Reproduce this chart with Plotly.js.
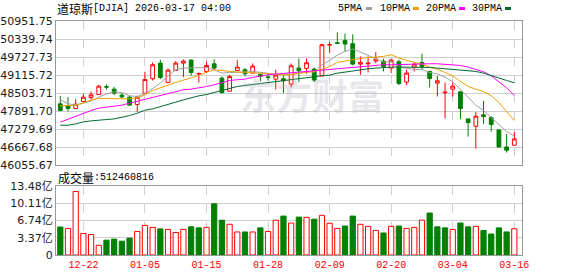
<!DOCTYPE html>
<html>
<head>
<meta charset="utf-8">
<script src="https://cdn.plot.ly/plotly-3.0.1.min.js"></script>
<style>
html,body{margin:0;padding:0;background:#fff;}
#chart{width:578px;height:276px;}
</style>
</head>
<body>
<div id="chart"></div>
<script>
// ---------------- DATA ----------------
const dates = [
  "2025-12-17","2025-12-18","2025-12-19","2025-12-22","2025-12-23","2025-12-24","2025-12-26","2025-12-29","2025-12-30","2025-12-31",
  "2026-01-02","2026-01-05","2026-01-06","2026-01-07","2026-01-08","2026-01-09","2026-01-12","2026-01-13","2026-01-14","2026-01-15",
  "2026-01-16","2026-01-20","2026-01-21","2026-01-22","2026-01-23","2026-01-26","2026-01-27","2026-01-28","2026-01-29","2026-01-30",
  "2026-02-02","2026-02-03","2026-02-04","2026-02-05","2026-02-06","2026-02-09","2026-02-10","2026-02-11","2026-02-12","2026-02-13",
  "2026-02-17","2026-02-18","2026-02-19","2026-02-20","2026-02-23","2026-02-24","2026-02-25","2026-02-26","2026-02-27","2026-03-02",
  "2026-03-03","2026-03-04","2026-03-05","2026-03-06","2026-03-09","2026-03-10","2026-03-11","2026-03-12","2026-03-13","2026-03-16"
];
const openP = [48141,48073,47982,48220,48356,48458,48725,48640,48436,48368,
  48118,48504,48991,49524,48866,49274,49524,49626,49155,49240,
  49501,49014,48572,49274,49297,49184,49138,49055,48980,48991,
  48810,49354,49342,49320,49093,50140,50215,50294,50181,49490,
  49500,49592,49592,49354,49569,48878,49388,49546,49240,48844,
  48515,48640,48549,47631,47382,47767,47676,47257,46679,46735];
const highP = [48413,48368,48300,48481,48560,48787,48798,48719,48504,48413,
  48413,49229,49546,49637,49342,49592,49648,49650,49207,49569,
  49660,49070,49127,49626,49354,49512,49150,49138,49297,49127,
  49512,49671,49682,49365,50181,50249,50566,50521,50498,49750,
  49750,49898,49671,49671,49637,49297,49524,49841,49263,49093,
  48866,48866,48560,47640,47858,48243,47722,47265,47120,47189];
const lowP = [47892,47880,47982,48220,48277,48458,48617,48436,48311,48096,
  47869,48504,48934,48980,48844,49274,49048,49093,48866,49184,
  49297,48481,48572,49274,49070,49184,48900,48934,48628,48504,
  48696,48878,49161,48878,49070,49864,50170,49920,49444,49127,
  49207,49524,49240,49184,48776,48776,49240,49297,48696,48390,
  47642,48390,47620,47030,46622,47461,47200,46656,46486,46735];
const closeP = [47914,47982,48130,48368,48447,48742,48710,48504,48379,48096,
  48368,48968,49467,49036,49286,49524,49592,49207,49165,49444,
  49354,48526,49070,49388,49161,49422,49070,49040,49116,48923,
  49433,49263,49535,48946,50147,50150,50192,50170,49490,49546,
  49520,49660,49410,49626,48832,49184,49490,49410,49002,48923,
  48535,48742,47982,47506,47722,47710,47438,46679,46566,46951];
const ma5 = [48277,48141,48107,48164,48232,48368,48481,48549,48526,48413,
  48390,48481,48674,48844,49093,49297,49354,49354,49376,49376,
  49297,49184,49206,49206,49218,49240,49206,49184,49150,49116,
  49127,49184,49240,49218,49467,49614,49796,49920,50000,49898,
  49784,49682,49558,49558,49410,49342,49308,49308,49206,49161,
  49048,48889,48617,48334,48096,47914,47676,47416,47200,47053];
const ma10 = [48073,48084,48096,48164,48277,48322,48322,48322,48322,48311,
  48345,48447,48594,48674,48776,48866,48957,49025,49104,49218,
  49297,49263,49240,49218,49218,49206,49184,49161,49138,49116,
  49138,49184,49206,49240,49297,49410,49546,49592,49637,49682,
  49716,49728,49750,49807,49694,49614,49546,49490,49388,49320,
  49206,49093,48900,48730,48640,48560,48413,48186,47880,47574];
const ma20 = [47518,47620,47710,47824,47914,47994,48028,48062,48096,48164,
  48232,48288,48368,48413,48481,48560,48617,48640,48674,48730,
  48787,48866,48934,48957,48980,49036,49093,49127,49150,49172,
  49184,49206,49218,49240,49263,49297,49331,49354,49376,49410,
  49433,49444,49467,49467,49478,49490,49490,49501,49501,49501,
  49490,49478,49444,49388,49320,49229,49093,48889,48685,48424];
const ma30 = [47416,47416,47461,47529,47563,47597,47608,47631,47676,47744,
  47824,47926,47971,48039,48107,48198,48277,48356,48413,48458,
  48526,48617,48674,48730,48764,48798,48844,48866,48900,48934,
  48980,49014,49048,49070,49093,49116,49184,49218,49263,49297,
  49331,49354,49376,49388,49388,49388,49388,49388,49376,49354,
  49331,49320,49297,49274,49240,49184,49093,49014,48934,48855];
// volume in 亿 (1e8 shares)
const volume = [5.47,5.2,12.4,4.2,4.0,1.9,2.9,3.1,2.7,3.3,
  4.6,5.8,5.4,5.1,5.0,4.4,5.0,5.5,5.3,5.4,
  10.0,6.8,6.0,4.5,4.5,4.5,5.3,4.6,6.8,7.6,
  6.25,7.4,7.36,7.0,7.75,6.2,5.2,5.66,7.6,6.0,
  5.6,4.8,4.3,5.6,5.66,5.2,5.4,6.8,8.2,5.5,
  5.3,5.0,6.25,5.5,5.6,4.8,4.1,5.3,4.5,5.1246];
// 1 = up (red), -1 = down (green)
const volDir = [-1,1,1,1,1,1,-1,-1,-1,-1,
  1,1,1,-1,1,1,1,-1,-1,1,
  -1,-1,1,1,-1,1,-1,1,1,-1,
  1,-1,1,-1,1,1,1,-1,-1,1,
  1,1,-1,1,-1,1,1,1,-1,-1,
  -1,1,-1,-1,1,-1,-1,-1,-1,1];
const priceTicks = [46055.67,46667.68,47279.69,47891.70,48503.71,49115.72,49727.73,50339.74,50951.75];
const volTicks = [0,3.37,6.74,10.11,13.48];
const volTickText = ["0","3.37亿","6.74亿","10.11亿","13.48亿"];
const xTickVals = ["2025-12-22","2026-01-05","2026-01-15","2026-01-28","2026-02-09","2026-02-20","2026-03-04","2026-03-16"];
const xTickText = ["12-22","01-05","01-15","01-28","02-09","02-20","03-04","03-16"];
const maNames = ["5PMA","10PMA","20PMA","30PMA"];
const titleCn = "道琼斯";
const titleRest = "[DJIA] 2026-03-17 04:00";
const volLabelCn = "成交量";
const volLabelNum = ":512460816";
const watermark = "东方财富";

// ---------------- STYLE ----------------
const RED = "#ff0000", GREEN = "#008000";
const maColors = ["#a0a0a0","#f0a000","#ff00ff","#006a30"];
const L = 56, R = 522, T = 21, B = 255;
const px2x = p => (p - L) / (R - L);
const py2y = p => (B - p) / (B - T);
const monoFont = "Liberation Mono, DejaVu Sans Mono, monospace";
const cjkFont = "Noto Sans CJK SC, sans-serif";

const traces = [];
traces.push({
  type: "candlestick", x: dates, open: openP, high: highP, low: lowP, close: closeP,
  xaxis: "x", yaxis: "y",
  increasing: {line: {color: RED, width: 1}, fillcolor: "#ffffff"},
  decreasing: {line: {color: GREEN, width: 1}, fillcolor: GREEN},
  whiskerwidth: 0, hoverinfo: "skip", showlegend: false
});
[ma5, ma10, ma20, ma30].forEach((arr, k) => {
  traces.push({type: "scatter", mode: "lines", x: dates, y: arr, xaxis: "x", yaxis: "y",
    line: {color: maColors[k], width: 1}, showlegend: false, hoverinfo: "skip"});
});
traces.push({
  type: "bar", x: dates, y: volume, xaxis: "x2", yaxis: "y2", width: 0.68,
  marker: {color: volDir.map(d => d > 0 ? "#ffffff" : GREEN),
           line: {color: volDir.map(d => d > 0 ? RED : GREEN), width: 1}},
  showlegend: false, hoverinfo: "skip"
});

const xRange = [-0.56, 60.0];
const commonX = {
  type: "category", range: xRange, showline: true, mirror: true, linecolor: "#999", linewidth: 1,
  showgrid: true, gridcolor: "#cfcfcf", griddash: "dash", gridwidth: 1,
  tickmode: "array", tickvals: xTickVals, ticktext: xTickText, ticks: "",
  zeroline: false, fixedrange: true
};

const annotations = [
  {text: titleCn, x: px2x(56), y: py2y(8.5), xref: "paper", yref: "paper", xanchor: "left", yanchor: "middle",
   showarrow: false, font: {family: cjkFont, size: 12, color: "#000"}, borderpad: 0},
  {text: titleRest, x: px2x(92), y: py2y(8.5), xref: "paper", yref: "paper", xanchor: "left", yanchor: "middle",
   showarrow: false, font: {family: monoFont, size: 10, color: "#000"}, borderpad: 0},
  {text: volLabelCn, x: px2x(57), y: py2y(177), xref: "paper", yref: "paper", xanchor: "left", yanchor: "middle",
   showarrow: false, font: {family: cjkFont, size: 12, color: "#000"}, borderpad: 0},
  {text: volLabelNum, x: px2x(93), y: py2y(177), xref: "paper", yref: "paper", xanchor: "left", yanchor: "middle",
   showarrow: false, font: {family: monoFont, size: 10, color: "#000"}, borderpad: 0},
  {text: "<b>" + watermark + "</b>", x: px2x(312), y: py2y(94), xref: "paper", yref: "paper",
   xanchor: "center", yanchor: "middle", showarrow: false,
   font: {family: cjkFont, size: 36, color: "rgba(170,170,185,0.28)"}}
];
const legendTextX = [337, 379, 425, 471];
const legendBoxX = [366, 413, 459, 505];
const shapes = [];
maNames.forEach((n, k) => {
  annotations.push({text: n, x: px2x(legendTextX[k]), y: py2y(8.5), xref: "paper", yref: "paper",
    xanchor: "left", yanchor: "middle", showarrow: false, borderpad: 0,
    font: {family: monoFont, size: 10, color: "#000"}});
  shapes.push({type: "rect", xref: "paper", yref: "paper",
    x0: px2x(legendBoxX[k]), x1: px2x(legendBoxX[k] + 6), y0: py2y(10), y1: py2y(7),
    fillcolor: maColors[k], line: {width: 0}});
});

const layout = {
  width: 578, height: 276, margin: {l: L, r: 578 - R, t: T, b: 276 - B, pad: 0},
  paper_bgcolor: "#fff", plot_bgcolor: "#fff", showlegend: false, hovermode: false,
  xaxis: Object.assign({}, commonX, {anchor: "y", showticklabels: false, rangeslider: {visible: false}}),
  xaxis2: Object.assign({}, commonX, {anchor: "y2", matches: "x", showticklabels: true,
    tickfont: {family: monoFont, size: 10, color: RED}}),
  yaxis: {domain: [0.3833, 1], range: [priceTicks[0], priceTicks[priceTicks.length - 1]],
    tickmode: "array", tickvals: priceTicks, ticktext: priceTicks.map(v => v.toFixed(2)),
    showline: true, mirror: true, linecolor: "#999", linewidth: 1,
    showgrid: true, gridcolor: "#cfcfcf", gridwidth: 1, zeroline: false, ticks: "",
    tickfont: {family: "DejaVu Sans, Verdana, sans-serif", size: 11, color: "#1a1a1a"}, fixedrange: true},
  yaxis2: {domain: [0, 0.2949], range: [0, 13.48], anchor: "x2",
    tickmode: "array", tickvals: volTicks, ticktext: volTickText,
    showline: true, mirror: true, linecolor: "#999", linewidth: 1,
    showgrid: true, gridcolor: "#cfcfcf", gridwidth: 1, zeroline: false, ticks: "",
    tickfont: {family: "DejaVu Sans, Verdana, Noto Sans CJK SC, sans-serif", size: 11, color: "#1a1a1a"}, fixedrange: true},
  bargap: 0.3, boxgap: 0.3,
  annotations: annotations, shapes: shapes
};

Plotly.newPlot("chart", traces, layout, {staticPlot: true, displayModeBar: false});
</script>
</body>
</html>
